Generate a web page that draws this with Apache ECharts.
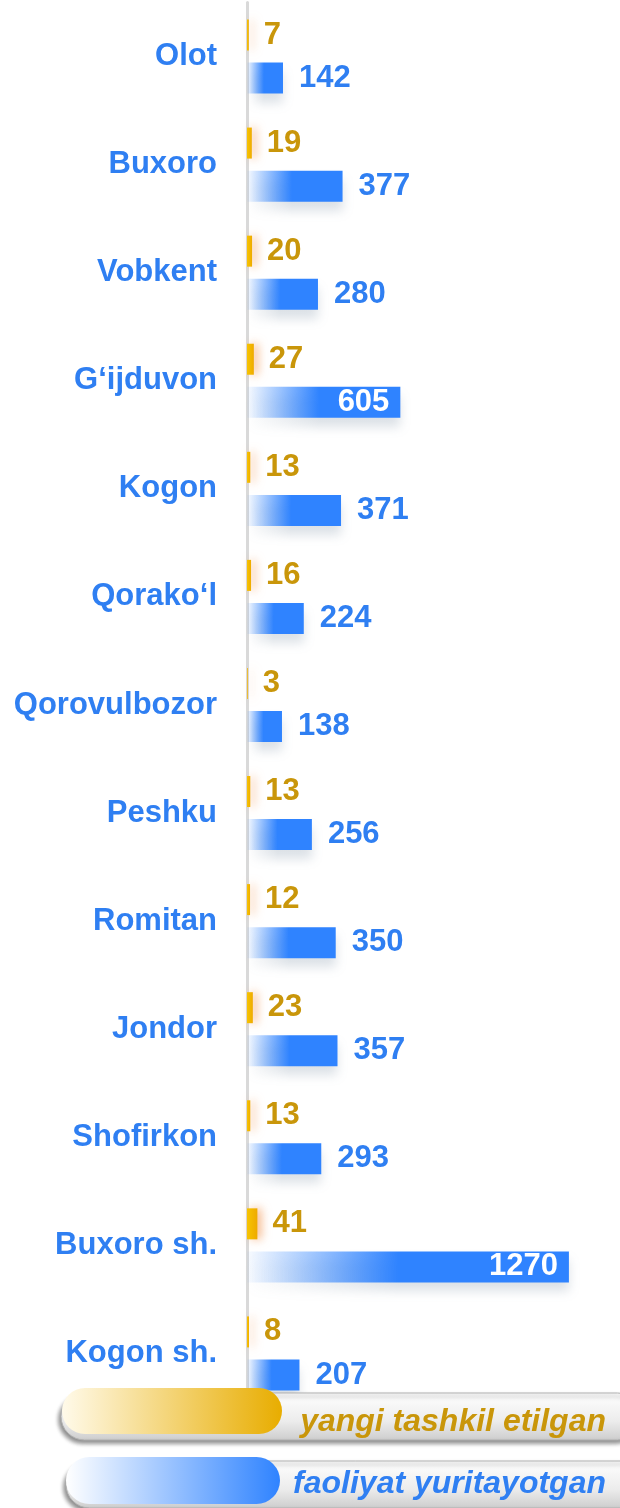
<!doctype html>
<html>
<head>
<meta charset="UTF-8">
<title>Buxoro</title>
<script src="https://cdn.jsdelivr.net/npm/echarts@6/dist/echarts.min.js"></script>
<style>
	html, body { margin: 0; padding: 0; background: #fff; }
	#chart { width: 620px; height: 1508px; }
</style>
</head>
<body>
<div id="chart"></div>
<script>
// hududlar
var regions = ['Olot', 'Buxoro', 'Vobkent', 'G‘ijduvon', 'Kogon', 'Qorako‘l', 'Qorovulbozor',
	'Peshku', 'Romitan', 'Jondor', 'Shofirkon', 'Buxoro sh.', 'Kogon sh.'];
// yangi tashkil etilgan
var newOnes = [7, 19, 20, 27, 13, 16, 3, 13, 12, 23, 13, 41, 8];
// faoliyat yuritayotgan
var activeOnes = [142, 377, 280, 605, 371, 224, 138, 256, 350, 357, 293, 1270, 207];
var legendNames = ['yangi tashkil etilgan', 'faoliyat yuritayotgan'];

var FONT = 'Liberation Sans, Arial, sans-serif';
var gold = '#c9960a';
var blue = '#2f7ff2';

var chart = echarts.init(document.getElementById('chart'));

// big bars get the label inside
var activeData = activeOnes.map(function (v) {
	if (v > 500) {
		return { value: v, label: { position: 'insideRight', color: '#fff', distance: 11 } };
	}
	return v;
});

function pill(x, y, w, h, fill, z, shadow) {
	return {
		type: 'rect', z: z,
		shape: { x: x, y: y, width: w, height: h, r: h / 2 },
		style: Object.assign({ fill: fill }, shadow || {})
	};
}

var option = {
	animation: false,
	grid: { left: 247, right: 8, top: 2.5, height: 1405 },
	xAxis: {
		type: 'value', min: 0, max: 1440, show: false
	},
	yAxis: {
		type: 'category', data: regions, inverse: true,
		axisLine: { show: true, lineStyle: { color: '#d9d9d9', width: 3 } },
		axisTick: { show: false },
		axisLabel: { color: blue, fontSize: 31, fontWeight: 'bold', fontFamily: FONT, margin: 30 }
	},
	series: [
		{
			name: legendNames[0], type: 'bar', data: newOnes,
			barWidth: 31, barGap: '39%',
			itemStyle: {
				color: new echarts.graphic.LinearGradient(0, 0, 1, 0, [
					{ offset: 0, color: '#f7c400' },
					{ offset: 1, color: '#eeaa00' }
				]),
				shadowColor: 'rgba(240,130,50,0.55)', shadowBlur: 10, shadowOffsetX: 4
			},
			label: {
				show: true, position: 'right', distance: 15,
				color: gold, fontSize: 31, fontWeight: 'bold', fontFamily: FONT
			}
		},
		{
			name: legendNames[1], type: 'bar', data: activeData,
			barWidth: 31,
			itemStyle: {
				color: new echarts.graphic.LinearGradient(0, 0, 1, 0, [
					{ offset: 0, color: 'rgba(47,131,255,0.03)' },
					{ offset: 0.47, color: '#2f83ff' },
					{ offset: 1, color: '#2f83ff' }
				]),
				shadowColor: 'rgba(60,90,120,0.18)', shadowBlur: 10, shadowOffsetY: 9
			},
			label: {
				show: true, position: 'right', distance: 16,
				color: blue, fontSize: 31, fontWeight: 'bold', fontFamily: FONT
			}
		}
	],
	graphic: [
		// legenda 1
		pill(61, 1393, 580, 47, new echarts.graphic.LinearGradient(0, 0, 0, 1, [
			{ offset: 0, color: '#ffffff' }, { offset: 0.6, color: '#ececec' }, { offset: 1, color: '#cdcdcd' }
		]), 10, { stroke: '#b0b0b0', lineWidth: 1, shadowColor: 'rgba(0,0,0,0.45)', shadowBlur: 4, shadowOffsetX: -2, shadowOffsetY: 3 }),
		pill(62, 1388, 220, 46, new echarts.graphic.LinearGradient(0, 0, 1, 0, [
			{ offset: 0, color: '#fffaea' }, { offset: 1, color: '#e8ad00' }
		]), 11),
		{
			type: 'text', z: 12, x: 606, y: 1422,
			style: { text: legendNames[0], fill: gold, font: 'italic bold 32px ' + FONT, align: 'right', verticalAlign: 'middle' }
		},
		// legenda 2
		pill(66, 1461, 580, 47, new echarts.graphic.LinearGradient(0, 0, 0, 1, [
			{ offset: 0, color: '#ffffff' }, { offset: 0.6, color: '#ececec' }, { offset: 1, color: '#cdcdcd' }
		]), 10, { stroke: '#b0b0b0', lineWidth: 1, shadowColor: 'rgba(0,0,0,0.45)', shadowBlur: 4, shadowOffsetX: -2, shadowOffsetY: 3 }),
		pill(66, 1457, 214, 47, new echarts.graphic.LinearGradient(0, 0, 1, 0, [
			{ offset: 0, color: '#ffffff' }, { offset: 1, color: '#2f83ff' }
		]), 11),
		{
			type: 'text', z: 12, x: 606, y: 1484,
			style: { text: legendNames[1], fill: blue, font: 'italic bold 32px ' + FONT, align: 'right', verticalAlign: 'middle' }
		}
	]
};
chart.setOption(option);
</script>
</body>
</html>
